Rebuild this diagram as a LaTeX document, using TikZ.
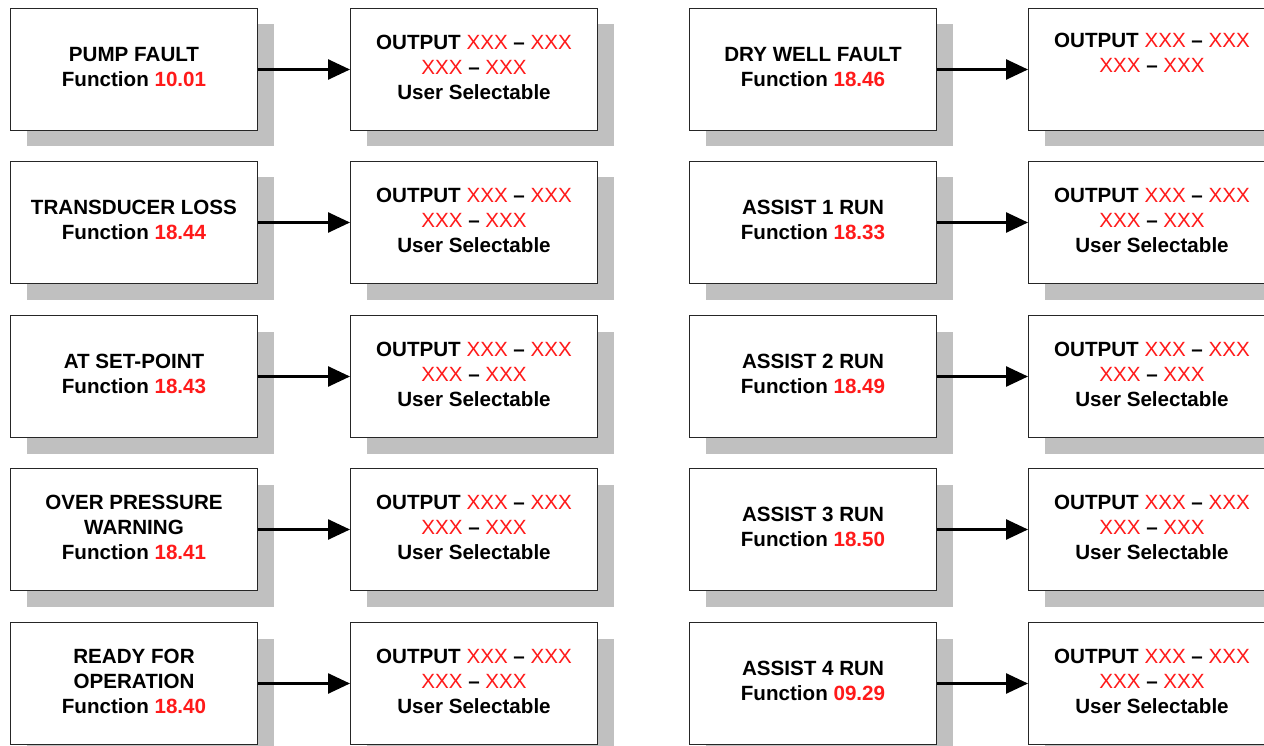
\documentclass[tikz,border=0pt]{standalone}
\usepackage{fontspec}
\setmainfont{Liberation Sans}
\usetikzlibrary{shadows,arrows.meta}
\definecolor{shd}{HTML}{C0C0C0}
\definecolor{fred}{HTML}{FF1A1A}
\newcommand\rd[1]{\textcolor{fred}{#1}}
\newcommand\xx{\textcolor{fred}{\mdseries XXX}}
\newcommand\outtxt{OUTPUT \xx{} -- \xx\\ \xx{} -- \xx\\ User Selectable}
\tikzset{
  box/.style={draw=black!85, line width=1pt, fill=white, minimum width=247pt,
    minimum height=122pt, inner sep=0pt, align=center, anchor=north west,
    font=\fontsize{20.6}{25}\selectfont\bfseries,
    execute at end node={\rule[-5pt]{0pt}{0pt}},
    drop shadow={shadow xshift=16pt, shadow yshift=-16pt, fill=shd, opacity=1}},
  conn/.style={line width=2.6pt, -{Triangle[length=22pt,width=20pt]}}
}
\begin{document}
\begin{tikzpicture}[x=1pt,y=-1pt]
\useasboundingbox (0,0) rectangle (1264,746);
% left column
\node[box] (a1) at (10,8)   {PUMP FAULT\\ Function \rd{10.01}};
\node[box] (a2) at (10,161) {TRANSDUCER LOSS\\ Function \rd{18.44}};
\node[box] (a3) at (10,315) {AT SET-POINT\\ Function \rd{18.43}};
\node[box] (a4) at (10,468) {OVER PRESSURE\\ WARNING\\ Function \rd{18.41}};
\node[box] (a5) at (10,622) {READY FOR\\ OPERATION\\ Function \rd{18.40}};
\node[box] (b1) at (350,8)   {\outtxt};
\node[box] (b2) at (350,161) {\outtxt};
\node[box] (b3) at (350,315) {\outtxt};
\node[box] (b4) at (350,468) {\outtxt};
\node[box] (b5) at (350,622) {\outtxt};
% right column
\node[box] (c1) at (689,8)   {DRY WELL FAULT\\ Function \rd{18.46}};
\node[box] (c2) at (689,161) {ASSIST 1 RUN\\ Function \rd{18.33}};
\node[box] (c3) at (689,315) {ASSIST 2 RUN\\ Function \rd{18.49}};
\node[box] (c4) at (689,468) {ASSIST 3 RUN\\ Function \rd{18.50}};
\node[box] (c5) at (689,622) {ASSIST 4 RUN\\ Function \rd{09.29}};
\node[box] (d1) at (1028,8)   {OUTPUT \xx{} -- \xx\\ \xx{} -- \xx\\ \strut};
\node[box] (d2) at (1028,161) {\outtxt};
\node[box] (d3) at (1028,315) {\outtxt};
\node[box] (d4) at (1028,468) {\outtxt};
\node[box] (d5) at (1028,622) {\outtxt};
\foreach \i in {1,...,5}{
  \draw[conn] (a\i.east) -- (b\i.west);
  \draw[conn] (c\i.east) -- (d\i.west);
}
\end{tikzpicture}
\end{document}
